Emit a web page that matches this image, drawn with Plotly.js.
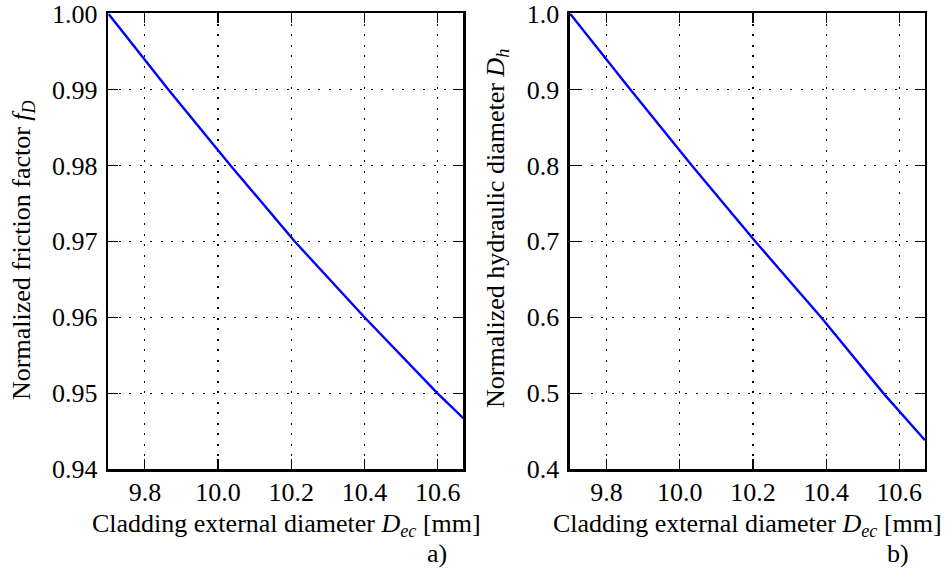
<!DOCTYPE html>
<html>
<head>
<meta charset="utf-8">
<script src="https://cdn.plot.ly/plotly-3.0.1.min.js"></script>
<style>html,body{margin:0;padding:0;background:#fff;}#chart{width:949px;height:572px;}</style>
</head>
<body>
<div id="chart"></div>
<script>
// Panel a) normalized friction factor
const diamA = [9.70, 9.864, 10.034, 10.209, 10.400, 10.599, 10.670];
const frictionA = [1.00, 0.99, 0.98, 0.97, 0.96, 0.95, 0.9467];
// Panel b) normalized hydraulic diameter
const diamB = [9.70, 9.865, 10.033, 10.206, 10.386, 10.556, 10.670];
const hydraulicB = [1.0, 0.9, 0.8, 0.7, 0.6, 0.5, 0.438];

const xTicks = [9.8, 10.0, 10.2, 10.4, 10.6];
const yTicksA = [0.94, 0.95, 0.96, 0.97, 0.98, 0.99, 1.00];
const yTicksB = [0.4, 0.5, 0.6, 0.7, 0.8, 0.9, 1.0];

const FONT = "'Liberation Serif', 'Times New Roman', serif";
const FS = 26;

const traces = [
  {x: diamA, y: frictionA, type: 'scatter', mode: 'lines', xaxis: 'x', yaxis: 'y',
   line: {color: '#0000ff', width: 2.4}, hoverinfo: 'skip', cliponaxis: true},
  {x: diamB, y: hydraulicB, type: 'scatter', mode: 'lines', xaxis: 'x2', yaxis: 'y2',
   line: {color: '#0000ff', width: 2.4}, hoverinfo: 'skip', cliponaxis: true}
];

const GRIDDASH = '2px,8.5px';
function xax(domain, anchor) {
  return {domain: domain, anchor: anchor, range: [9.70, 10.67], tickvals: xTicks,
    ticktext: xTicks.map(v => v.toFixed(1)), ticks: 'inside', ticklen: 10, tickwidth: 1.2,
    tickcolor: '#000', mirror: 'ticks', showline: true, linecolor: '#000', linewidth: 2.5,
    showgrid: true, gridcolor: '#000', griddash: GRIDDASH, gridwidth: 1.2, zeroline: false,
    tickfont: {family: FONT, size: FS, color: '#000'}, ticklabelstandoff: -2,
    ticklabeloverflow: 'allow', automargin: false};
}
function yax(domain, anchor, range, ticks, dec) {
  return {domain: domain, anchor: anchor, range: range, tickvals: ticks,
    ticktext: ticks.map(v => v.toFixed(dec)), ticks: 'inside', ticklen: 10, tickwidth: 1.2,
    tickcolor: '#000', mirror: 'ticks', showline: true, linecolor: '#000', linewidth: 2.5,
    showgrid: true, gridcolor: '#000', griddash: GRIDDASH, gridwidth: 1.2, zeroline: false,
    tickfont: {family: FONT, size: FS, color: '#000'}, ticklabelstandoff: 3,
    ticklabeloverflow: 'allow', automargin: false};
}

const yDom = [0.18, 0.9764];
const layout = {
  width: 949, height: 572,
  margin: {l: 0, r: 0, t: 0, b: 0},
  paper_bgcolor: '#fff', plot_bgcolor: '#fff',
  showlegend: false,
  font: {family: FONT, size: FS, color: '#000'},
  xaxis: xax([0.1141, 0.4882], 'y'),
  yaxis: yax(yDom, 'x', [0.94, 1.00001], yTicksA, 2),
  xaxis2: xax([0.6006, 0.9747], 'y2'),
  yaxis2: yax(yDom, 'x2', [0.4, 1.0001], yTicksB, 1),
  annotations: [
    {text: 'Cladding external diameter <i>D<sub>ec</sub></i> [mm]', xref: 'paper', yref: 'paper',
     x: 286/949, y: 1 - 525/572, xanchor: 'center', yanchor: 'middle', showarrow: false,
     font: {family: FONT, size: FS, color: '#000'}},
    {text: 'Cladding external diameter <i>D<sub>ec</sub></i> [mm]', xref: 'paper', yref: 'paper',
     x: 747/949, y: 1 - 525/572, xanchor: 'center', yanchor: 'middle', showarrow: false,
     font: {family: FONT, size: FS, color: '#000'}},
    {text: 'Normalized friction factor <i>f<sub>D</sub></i>', xref: 'paper', yref: 'paper',
     x: 23/949, y: 1 - 250/572, xanchor: 'center', yanchor: 'middle', showarrow: false, textangle: -90,
     font: {family: FONT, size: FS, color: '#000'}},
    {text: 'Normalized hydraulic diameter <i>D<sub>h</sub></i>', xref: 'paper', yref: 'paper',
     x: 497/949, y: 1 - 229/572, xanchor: 'center', yanchor: 'middle', showarrow: false, textangle: -90,
     font: {family: FONT, size: FS, color: '#000'}},
    {text: 'a)', xref: 'paper', yref: 'paper', x: 437/949, y: 1 - 553/572,
     xanchor: 'center', yanchor: 'middle', showarrow: false, font: {family: FONT, size: FS, color: '#000'}},
    {text: 'b)', xref: 'paper', yref: 'paper', x: 898/949, y: 1 - 553/572,
     xanchor: 'center', yanchor: 'middle', showarrow: false, font: {family: FONT, size: FS, color: '#000'}}
  ]
};

Plotly.newPlot('chart', traces, layout, {staticPlot: true, displayModeBar: false});
</script>
</body>
</html>
